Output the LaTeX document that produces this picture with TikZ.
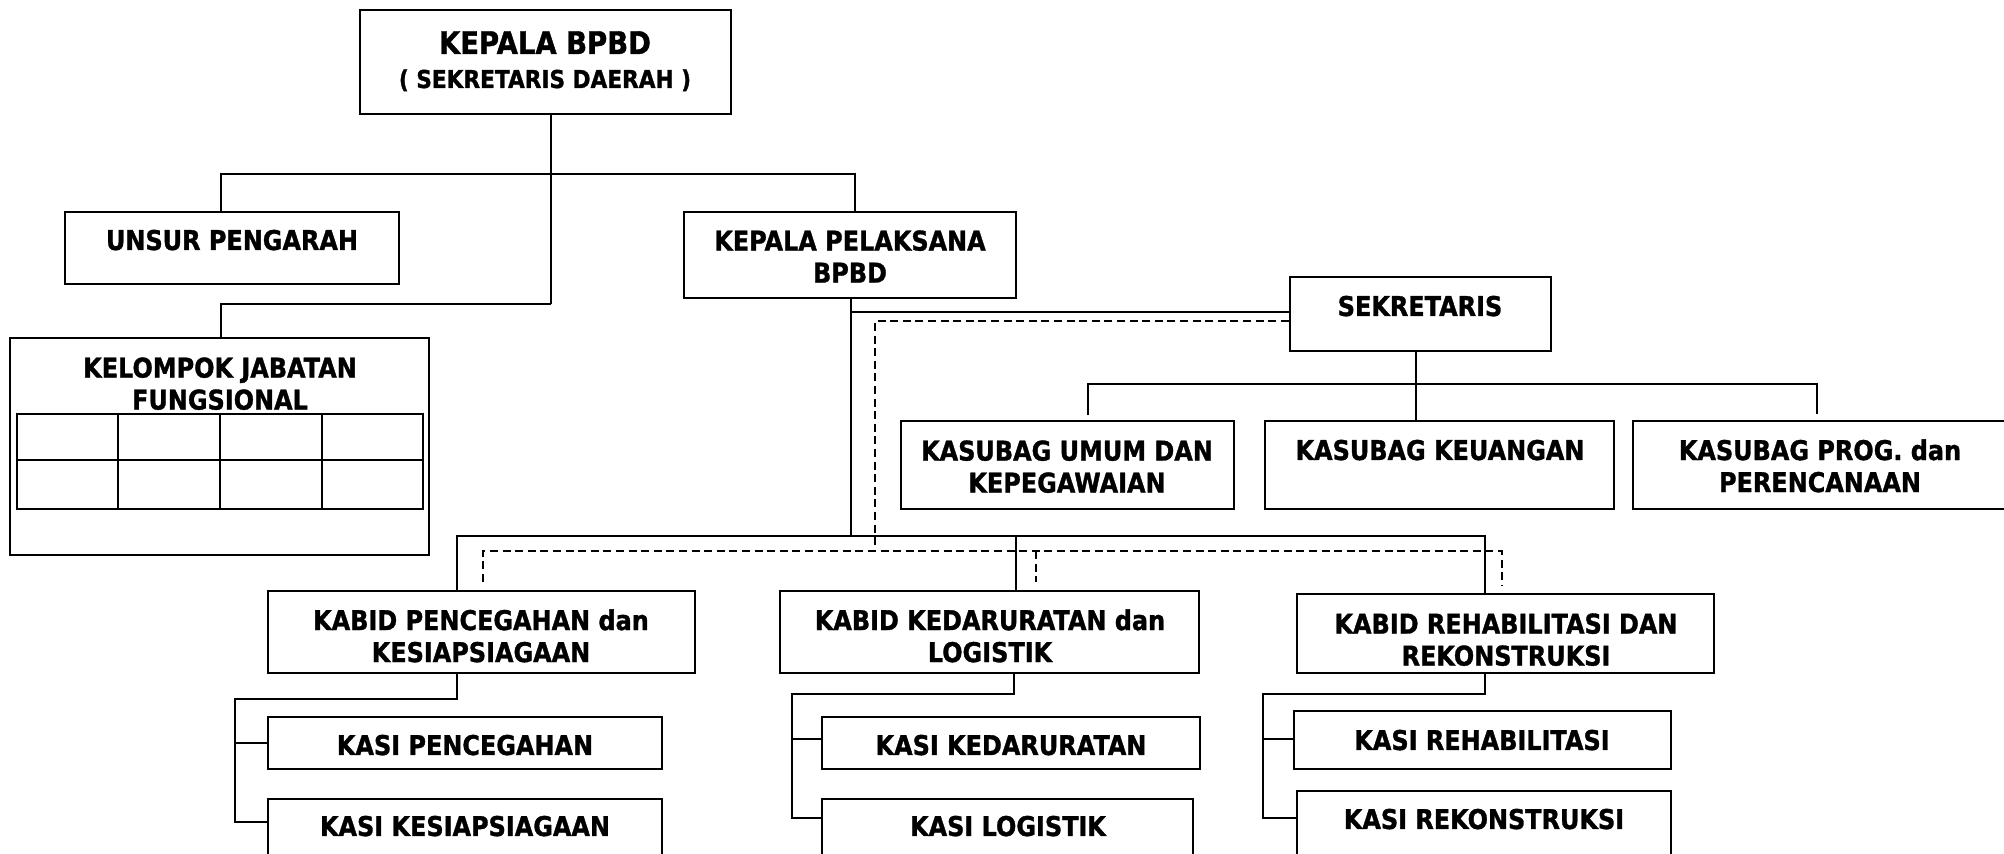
\documentclass[tikz,border=0pt]{standalone}
\usepackage{fontspec}
\setmainfont{DejaVu Sans}[FakeStretch=0.88, BoldFeatures={FakeBold=1.2}]
\usetikzlibrary{fit}
\tikzset{
  box/.style={draw, line width=1.2pt, inner sep=0pt, fill=none},
  conn/.style={line width=1pt},
  dashline/.style={line width=1pt, dash pattern=on 4pt off 2.3pt},
  txt/.style={font=\bfseries\fontsize{13.6}{16}\selectfont, align=center, inner sep=0pt},
  bigtxt/.style={font=\bfseries\fontsize{15.6}{18}\selectfont, align=center, inner sep=0pt},
  smalltxt/.style={font=\bfseries\fontsize{12.3}{15}\selectfont, align=center, inner sep=0pt},
}
\begin{document}
\begin{tikzpicture}[x=0.5pt,y=-0.5pt]
\useasboundingbox[fill=white] (0,0) rectangle (2004,854);

% ---------- boxes ----------
\node[box, fit={(360,10) (731,114)}] (top) {};
\node[box, fit={(65,212) (399,284)}] (unsur) {};
\node[box, fit={(684,212) (1016,298)}] (kpl) {};
\node[box, fit={(10,338) (429,555)}] (kjf) {};
\node[box, fit={(1290,277) (1551,351)}] (sek) {};
\node[box, fit={(901,421) (1234,509)}] (umum) {};
\node[box, fit={(1265,421) (1614,509)}] (keu) {};
\node[box, fit={(1633,421) (2030,509)}] (prog) {};
\node[box, fit={(268,591) (695,673)}] (kabid1) {};
\node[box, fit={(780,591) (1199,673)}] (kabid2) {};
\node[box, fit={(1297,594) (1714,673)}] (kabid3) {};
\node[box, fit={(268,717) (662,769)}] (kasi11) {};
\node[box, fit={(268,799) (662,880)}] (kasi12) {};
\node[box, fit={(822,717) (1200,769)}] (kasi21) {};
\node[box, fit={(822,799) (1193,880)}] (kasi22) {};
\node[box, fit={(1294,711) (1671,769)}] (kasi31) {};
\node[box, fit={(1297,791) (1671,880)}] (kasi32) {};

% grid inside KELOMPOK JABATAN FUNGSIONAL
\draw[line width=1.2pt] (17,414) rectangle (423,509);
\draw[line width=1.2pt] (17,460) -- (423,460);
\foreach \gx in {118,220,322} \draw[line width=1.2pt] (\gx,414) -- (\gx,509);

% ---------- texts ----------
\node[bigtxt, anchor=base] (ttop1) at (545,54) {KEPALA BPBD};
\node[smalltxt, anchor=base] (ttop2) at (545,88) {( SEKRETARIS DAERAH )};
\node[txt, anchor=base] (tunsur) at (232,250) {UNSUR PENGARAH};
\node[txt, anchor=north] (tkpl) at (850,230) {KEPALA PELAKSANA\\BPBD};
\node[txt, anchor=north] (tkjf) at (220,357) {KELOMPOK JABATAN\\FUNGSIONAL};
\node[txt, anchor=base] (tsek) at (1420,316) {SEKRETARIS};
\node[txt, anchor=north] (tumum) at (1067,440) {KASUBAG UMUM DAN\\KEPEGAWAIAN};
\node[txt, anchor=base] (tkeu) at (1440,460) {KASUBAG KEUANGAN};
\node[txt, anchor=north] (tprog) at (1820,439) {KASUBAG PROG. dan\\PERENCANAAN};
\node[txt, anchor=north] (tkabid1) at (481,609) {KABID PENCEGAHAN dan\\KESIAPSIAGAAN};
\node[txt, anchor=north] (tkabid2) at (990,609) {KABID KEDARURATAN dan\\LOGISTIK};
\node[txt, anchor=north] (tkabid3) at (1506,613) {KABID REHABILITASI DAN\\REKONSTRUKSI};
\node[txt, anchor=base] (tkasi11) at (465,755) {KASI PENCEGAHAN};
\node[txt, anchor=base] (tkasi12) at (465,836) {KASI KESIAPSIAGAAN};
\node[txt, anchor=base] (tkasi21) at (1011,755) {KASI KEDARURATAN};
\node[txt, anchor=base] (tkasi22) at (1008,836) {KASI LOGISTIK};
\node[txt, anchor=base] (tkasi31) at (1482,750) {KASI REHABILITASI};
\node[txt, anchor=base] (tkasi32) at (1484,829) {KASI REKONSTRUKSI};

% ---------- junction coordinates ----------
\coordinate (j0) at (551,174);
\coordinate (jl) at (221,174);
\coordinate (jr) at (855,174);
\coordinate (j304) at (551,304);
\coordinate (jk) at (221,304);
\coordinate (p1) at (851,312);
\coordinate (p2) at (851,536);
\coordinate (d1) at (875,321);
\coordinate (d2) at (875,551);
\coordinate (dl) at (483,551);
\coordinate (dm) at (1036,551);
\coordinate (dr) at (1502,551);
\coordinate (b1) at (457,536);
\coordinate (bm) at (1016,536);
\coordinate (b2) at (1485,536);
\coordinate (s0) at (1416,384);
\coordinate (sl) at (1088,384);
\coordinate (sr) at (1817,384);
\coordinate (c1) at (457,699);
\coordinate (c1l) at (235,699);
\coordinate (c1a) at (235,743);
\coordinate (c1b) at (235,822);
\coordinate (c2) at (1014,694);
\coordinate (c2l) at (792,694);
\coordinate (c2a) at (792,739);
\coordinate (c2b) at (792,818);
\coordinate (c3) at (1485,694);
\coordinate (c3l) at (1263,694);
\coordinate (c3a) at (1263,739);
\coordinate (c3b) at (1263,818);

% ---------- connectors ----------
\draw[conn] (top.south -| j0) -- (j304);
\draw[conn] (unsur.north -| jl) -- (jl) -- (jr) -- (kpl.north -| jr);
\draw[conn] (j304) -- (jk) -- (kjf.north -| jk);
\draw[conn] (kpl.south -| p1) -- (p2);
\draw[conn] (p1) -- (p1 -| sek.west);
\draw[dashline] (d1 -| sek.west) -- (d1) -- (d2);
\draw[dashline] ([yshift=4pt]dl |- kabid1.north) -- (dl) -- (dr) -- ([yshift=3.5pt]dr |- kabid3.north);
\draw[dashline] (dm) -- ([yshift=4pt]dm |- kabid2.north);
\draw[conn] (kabid1.north -| b1) -- (b1) -- (b2) -- (kabid3.north -| b2);
\draw[conn] (bm) -- (kabid2.north -| bm);
\draw[conn] (sek.south -| s0) -- (keu.north -| s0);
\draw[conn] ([yshift=2.5pt]umum.north -| sl) -- (sl) -- (sr) -- ([yshift=3pt]prog.north -| sr);
\draw[conn] (kabid1.south -| c1) -- (c1) -- (c1l) -- (c1b) -- (c1b -| kasi12.west);
\draw[conn] (c1a) -- (c1a -| kasi11.west);
\draw[conn] (kabid2.south -| c2) -- (c2) -- (c2l) -- (c2b) -- (c2b -| kasi22.west);
\draw[conn] (c2a) -- (c2a -| kasi21.west);
\draw[conn] (kabid3.south -| c3) -- (c3) -- (c3l) -- (c3b) -- (c3b -| kasi32.west);
\draw[conn] (c3a) -- (c3a -| kasi31.west);
\end{tikzpicture}
\end{document}
